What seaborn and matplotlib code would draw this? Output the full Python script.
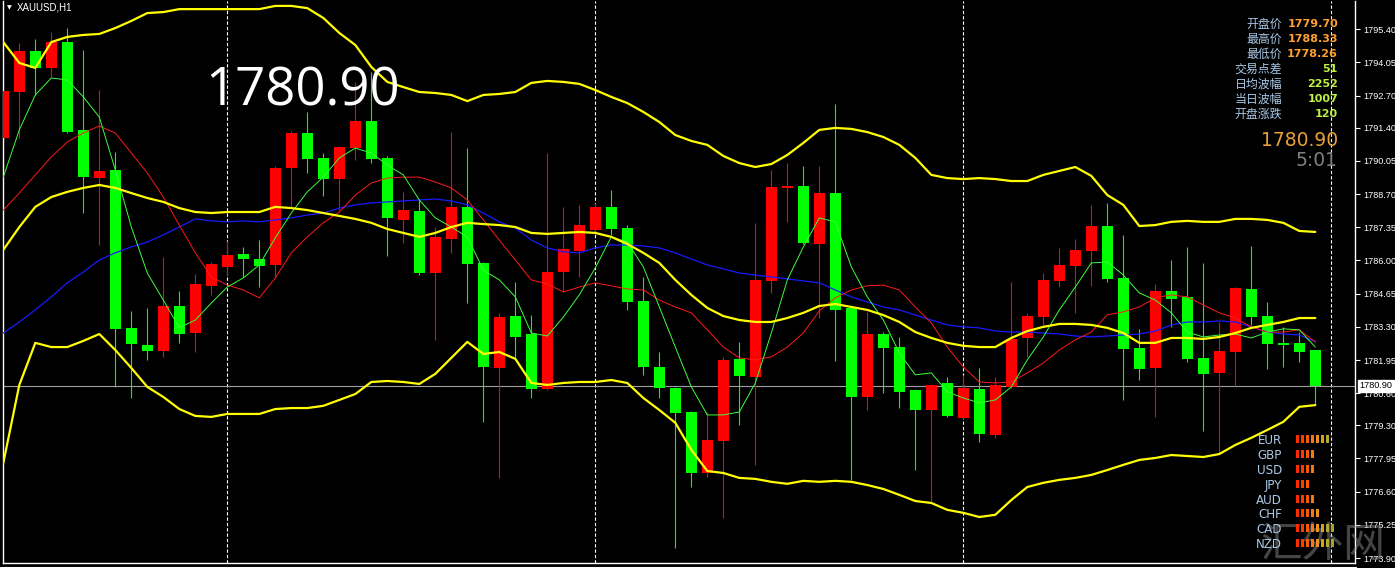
import numpy as np
import pandas as pd
import matplotlib
matplotlib.use("Agg")
import matplotlib.pyplot as plt
import seaborn as sns
from matplotlib.lines import Line2D

# ---------------- data (XAUUSD H1) ----------------
opens = [
    1790.98, 1792.85, 1794.52, 1793.83, 1794.88, 1791.31, 1789.35, 1789.68, 1783.26, 1782.57,
    1782.32, 1784.15, 1783.05, 1784.97, 1785.74, 1786.26, 1786.06, 1785.82, 1789.76, 1791.18,
    1790.17, 1789.31, 1790.57, 1791.67, 1790.17, 1787.65, 1788.01, 1785.49, 1786.87, 1788.18,
    1785.90, 1781.63, 1783.74, 1783.01, 1780.78, 1785.53, 1786.39, 1787.24, 1788.18, 1787.32,
    1784.35, 1781.67, 1780.82, 1779.84, 1777.36, 1778.66, 1782.00, 1781.27, 1785.17, 1788.95,
    1789.03, 1786.67, 1788.74, 1784.07, 1780.45, 1783.01, 1782.48, 1780.74, 1779.92, 1781.02,
    1779.60, 1780.78, 1778.91, 1780.86, 1782.85, 1783.70, 1785.17, 1785.78, 1786.39, 1787.40,
    1785.29, 1782.44, 1781.63, 1784.76, 1784.52, 1782.04, 1781.43, 1782.28, 1784.84, 1783.74,
    1782.65, 1782.65, 1782.36]
highs = [
    1794.96, 1794.84, 1795.00, 1795.29, 1795.45, 1794.56, 1792.93, 1790.41, 1783.95, 1784.07,
    1786.14, 1784.76, 1785.45, 1785.94, 1786.79, 1786.55, 1786.83, 1789.84, 1791.26, 1792.04,
    1790.37, 1790.66, 1793.26, 1793.66, 1790.25, 1788.79, 1788.46, 1787.36, 1791.22, 1790.57,
    1785.94, 1783.87, 1785.13, 1783.78, 1790.37, 1788.18, 1788.26, 1788.34, 1788.87, 1787.44,
    1785.33, 1782.28, 1780.86, 1779.88, 1779.84, 1782.08, 1782.69, 1787.53, 1789.68, 1789.96,
    1789.84, 1789.84, 1792.36, 1784.11, 1783.91, 1783.09, 1782.89, 1780.78, 1780.98, 1781.27,
    1781.35, 1781.63, 1781.27, 1785.13, 1783.87, 1785.49, 1786.51, 1786.87, 1788.26, 1788.34,
    1787.04, 1783.22, 1785.05, 1786.02, 1786.55, 1785.90, 1783.50, 1784.92, 1786.59, 1784.31,
    1783.30, 1783.09, 1782.36]
lows = [
    1790.78, 1790.98, 1792.73, 1793.46, 1791.18, 1787.93, 1786.63, 1780.86, 1780.41, 1781.96,
    1782.08, 1782.65, 1782.28, 1784.60, 1785.41, 1785.33, 1784.92, 1785.33, 1788.18, 1789.56,
    1788.62, 1788.05, 1790.09, 1789.96, 1786.18, 1786.71, 1785.41, 1782.77, 1786.31, 1784.27,
    1779.44, 1777.16, 1782.04, 1780.41, 1780.74, 1784.72, 1785.33, 1787.16, 1787.04, 1783.99,
    1781.35, 1780.41, 1774.31, 1776.79, 1777.20, 1775.53, 1779.31, 1777.69, 1784.68, 1787.57,
    1786.67, 1783.66, 1781.92, 1777.08, 1779.92, 1780.61, 1780.00, 1777.48, 1776.18, 1779.64,
    1779.56, 1778.62, 1778.79, 1780.82, 1782.08, 1783.30, 1784.92, 1783.87, 1784.97, 1785.13,
    1780.33, 1781.14, 1779.64, 1783.30, 1781.87, 1779.07, 1778.18, 1780.90, 1783.38, 1781.59,
    1781.67, 1781.87, 1780.12]
closes = [
    1792.89, 1794.52, 1793.83, 1794.88, 1791.22, 1789.39, 1789.64, 1783.22, 1782.61, 1782.32,
    1784.15, 1783.01, 1785.05, 1785.86, 1786.22, 1786.06, 1785.78, 1789.76, 1791.18, 1790.13,
    1789.31, 1790.62, 1791.67, 1790.13, 1787.73, 1788.05, 1785.49, 1786.96, 1788.18, 1785.86,
    1781.67, 1783.70, 1782.89, 1780.78, 1785.53, 1786.47, 1787.44, 1788.18, 1787.28, 1784.31,
    1781.67, 1780.82, 1779.80, 1777.36, 1778.70, 1781.96, 1781.31, 1785.21, 1788.99, 1789.03,
    1786.71, 1788.74, 1783.99, 1780.45, 1783.01, 1782.44, 1780.66, 1779.92, 1780.94, 1779.68,
    1780.82, 1778.95, 1780.94, 1782.81, 1783.74, 1785.21, 1785.82, 1786.43, 1787.40, 1785.25,
    1782.40, 1781.59, 1784.76, 1784.44, 1782.00, 1781.39, 1782.32, 1784.88, 1783.70, 1782.61,
    1782.57, 1782.28, 1780.90]

# Bollinger bands
bb_upper = [
    1794.88, 1794.03, 1793.83, 1794.88, 1795.09, 1795.17, 1795.21, 1795.45, 1795.74, 1796.06,
    1796.10, 1796.22, 1796.22, 1796.22, 1796.22, 1796.22, 1796.22, 1796.35, 1796.35, 1796.26,
    1795.86, 1795.25, 1794.76, 1793.87, 1793.26, 1793.05, 1792.85, 1792.81, 1792.73, 1792.48,
    1792.73, 1792.77, 1792.85, 1793.22, 1793.30, 1793.26, 1793.18, 1792.93, 1792.65, 1792.40,
    1792.04, 1791.63, 1791.10, 1790.86, 1790.70, 1790.25, 1789.96, 1789.80, 1789.92, 1790.29,
    1790.78, 1791.31, 1791.39, 1791.35, 1791.22, 1791.02, 1790.70, 1790.17, 1789.48, 1789.35,
    1789.31, 1789.35, 1789.31, 1789.23, 1789.23, 1789.48, 1789.64, 1789.80, 1789.44, 1788.66,
    1788.26, 1787.40, 1787.44, 1787.57, 1787.61, 1787.57, 1787.57, 1787.69, 1787.69, 1787.65,
    1787.53, 1787.20, 1787.16]
bb_middle = [
    1786.43, 1787.36, 1788.18, 1788.58, 1788.79, 1788.95, 1789.07, 1788.95, 1788.74, 1788.54,
    1788.38, 1788.13, 1787.97, 1787.93, 1787.97, 1787.97, 1787.97, 1788.18, 1788.13, 1788.05,
    1787.93, 1787.81, 1787.69, 1787.53, 1787.28, 1787.12, 1786.96, 1787.12, 1787.36, 1787.53,
    1787.48, 1787.44, 1787.36, 1787.12, 1787.08, 1787.12, 1787.16, 1787.12, 1786.96, 1786.67,
    1786.31, 1785.90, 1785.21, 1784.60, 1784.07, 1783.74, 1783.58, 1783.50, 1783.50, 1783.66,
    1783.87, 1784.15, 1784.23, 1784.11, 1783.99, 1783.78, 1783.50, 1783.09, 1782.85, 1782.65,
    1782.53, 1782.48, 1782.48, 1782.85, 1783.13, 1783.30, 1783.42, 1783.42, 1783.38, 1783.26,
    1783.05, 1782.65, 1782.65, 1782.85, 1782.85, 1782.81, 1782.89, 1783.05, 1783.26, 1783.38,
    1783.50, 1783.66, 1783.66]
bb_lower = [
    1777.77, 1780.94, 1782.65, 1782.48, 1782.48, 1782.73, 1783.01, 1782.36, 1781.63, 1780.86,
    1780.45, 1779.96, 1779.68, 1779.64, 1779.76, 1779.76, 1779.76, 1779.96, 1780.00, 1780.00,
    1780.09, 1780.33, 1780.57, 1781.06, 1781.10, 1781.06, 1780.98, 1781.39, 1782.04, 1782.69,
    1782.20, 1782.28, 1782.00, 1781.02, 1780.94, 1781.02, 1781.06, 1781.06, 1781.14, 1781.02,
    1780.41, 1779.92, 1779.40, 1778.30, 1777.44, 1777.36, 1777.16, 1777.12, 1777.00, 1776.92,
    1777.04, 1777.00, 1777.04, 1777.00, 1776.87, 1776.71, 1776.47, 1776.22, 1776.14, 1775.86,
    1775.74, 1775.57, 1775.66, 1776.26, 1776.79, 1776.96, 1777.08, 1777.16, 1777.28, 1777.48,
    1777.69, 1777.89, 1777.97, 1778.09, 1778.05, 1778.01, 1778.13, 1778.50, 1778.79, 1779.11,
    1779.44, 1780.05, 1780.12]

# moving averages
ma_fast = [
    1789.39, 1791.31, 1792.73, 1793.42, 1793.34, 1792.65, 1791.83, 1789.68, 1787.36, 1785.49,
    1784.39, 1783.26, 1783.58, 1784.27, 1784.92, 1785.29, 1785.82, 1786.92, 1787.93, 1788.79,
    1789.39, 1790.17, 1790.57, 1790.37, 1789.88, 1789.48, 1788.46, 1787.73, 1787.36, 1786.96,
    1785.61, 1785.21, 1784.52, 1783.05, 1782.93, 1783.70, 1784.60, 1785.70, 1786.96, 1786.75,
    1785.74, 1784.11, 1782.48, 1780.86, 1779.72, 1779.72, 1779.84, 1781.02, 1783.05, 1785.21,
    1786.55, 1787.73, 1787.57, 1785.74, 1784.52, 1783.58, 1782.24, 1781.35, 1781.43, 1780.66,
    1780.41, 1780.21, 1780.33, 1780.86, 1781.96, 1782.89, 1783.99, 1784.92, 1785.90, 1785.94,
    1785.41, 1784.68, 1784.39, 1783.87, 1783.09, 1782.89, 1782.97, 1783.01, 1782.85, 1783.09,
    1783.22, 1783.18, 1782.48]
ma_mid = [
    1788.05, 1788.74, 1789.48, 1790.21, 1790.82, 1791.18, 1791.47, 1791.18, 1790.37, 1789.56,
    1788.58, 1787.44, 1786.31, 1785.33, 1785.00, 1784.80, 1784.48, 1785.29, 1786.31, 1786.96,
    1787.53, 1787.97, 1788.66, 1789.15, 1789.35, 1789.39, 1789.39, 1789.19, 1788.95, 1788.46,
    1787.65, 1786.83, 1786.02, 1785.21, 1785.05, 1784.72, 1784.92, 1785.09, 1784.97, 1784.84,
    1784.80, 1784.39, 1784.11, 1783.87, 1783.18, 1782.48, 1782.04, 1781.96, 1782.08, 1782.48,
    1783.05, 1783.95, 1784.48, 1784.80, 1784.97, 1785.00, 1784.80, 1784.11, 1783.46, 1782.48,
    1781.67, 1781.06, 1781.02, 1781.06, 1781.43, 1781.83, 1782.36, 1782.77, 1783.09, 1783.79,
    1783.91, 1784.11, 1784.48, 1784.60, 1784.52, 1784.19, 1783.87, 1783.66, 1783.30, 1783.09,
    1783.09, 1783.18, 1782.69]
ma_slow = [
    1783.05, 1783.50, 1783.99, 1784.52, 1785.09, 1785.53, 1786.02, 1786.31, 1786.55, 1786.75,
    1787.04, 1787.36, 1787.69, 1787.61, 1787.57, 1787.61, 1787.57, 1787.65, 1787.73, 1787.85,
    1787.93, 1788.13, 1788.26, 1788.34, 1788.38, 1788.42, 1788.46, 1788.50, 1788.42, 1788.26,
    1787.93, 1787.57, 1787.32, 1786.83, 1786.51, 1786.35, 1786.31, 1786.51, 1786.63, 1786.63,
    1786.59, 1786.51, 1786.31, 1786.06, 1785.82, 1785.66, 1785.49, 1785.41, 1785.33, 1785.25,
    1785.17, 1785.09, 1784.80, 1784.52, 1784.31, 1784.11, 1783.99, 1783.78, 1783.58, 1783.38,
    1783.30, 1783.26, 1783.13, 1783.09, 1783.09, 1783.05, 1783.01, 1782.93, 1782.89, 1782.93,
    1782.97, 1783.01, 1783.13, 1783.38, 1783.50, 1783.50, 1783.54, 1783.50, 1783.30, 1783.09,
    1783.01, 1782.97, 1782.69]

day_separators = [14, 37, 60, 83]
y_ticks = [1773.90, 1775.25, 1776.60, 1777.95, 1779.30, 1780.60, 1781.95, 1783.30,
           1784.65, 1786.00, 1787.35, 1788.70, 1790.05, 1791.40, 1792.70, 1794.05, 1795.40]
last_price = 1780.90
symbol = "XAUUSD,H1"
countdown = "5:01"

info_labels = ["开盘价", "最高价", "最低价", "交易点差", "日均波幅", "当日波幅", "开盘涨跌"]
info_values = ["1779.70", "1788.33", "1778.26", "51", "2252", "1007", "120"]
info_colors = ["#ffa030", "#ffa030", "#ffa030", "#c0f040", "#c0f040", "#c0f040", "#c0f040"]

currencies = ["EUR", "GBP", "USD", "JPY", "AUD", "CHF", "CAD", "NZD"]
strength = [7, 4, 4, 3, 4, 5, 8, 8]
block_colors = ["#ff2a00", "#ff3c00", "#ff5800", "#f57810", "#e89020", "#d4a020", "#b4a82c", "#98a838"]

# ---------------- style ----------------
sns.set_style("dark", {"axes.facecolor": "black", "figure.facecolor": "black"})
plt.rcParams["font.family"] = ["Noto Sans CJK SC", "DejaVu Sans"]

W, H = 1395, 568
fig = plt.figure(figsize=(W / 100, H / 100), dpi=100, facecolor="black")
ax = fig.add_axes([3 / W, 5 / H, 1352 / W, 562 / H])
ax.set_facecolor("black")

df = pd.DataFrame({"open": opens, "high": highs, "low": lows, "close": closes,
                   "upper": bb_upper, "middle": bb_middle, "lower": bb_lower,
                   "fast": ma_fast, "mid": ma_mid, "slow": ma_slow})
df["idx"] = np.arange(len(df))
bull = df["close"] > df["open"]
colors = np.where(bull, "#ff0000", "#00ff00")

# day separators and bid line
for s in day_separators:
    ax.axvline(s, color="white", lw=0.8, ls=(0, (3, 1.8)), zorder=1)
ax.axhline(last_price, color="#a0a0a0", lw=0.8, zorder=1.5)

# candles
ax.vlines(df["idx"], df["low"], df["high"], colors=colors, lw=0.8, zorder=2)
body = (df["close"] - df["open"]).abs().clip(lower=0.05)
ax.bar(df["idx"], body, bottom=np.minimum(df["open"], df["close"]), width=0.66,
       color=colors, lw=0, zorder=3)

# indicator lines
for col, c, w in [("slow", "#1a1aff", 0.9), ("mid", "#ff1a1a", 0.7), ("fast", "#3cff3c", 0.7),
                  ("upper", "#ffff00", 1.6), ("middle", "#ffff00", 1.6), ("lower", "#ffff00", 1.6)]:
    sns.lineplot(x=df["idx"], y=df[col], color=c, lw=w, ax=ax, zorder=5)

ax.set_xlim(-0.02, 84.48)
ax.set_ylim(1773.70, 1796.55)
ax.set_xlabel("")
ax.set_ylabel("")
ax.set_xticks([])
ax.grid(False)
ax.yaxis.tick_right()
ax.set_yticks(y_ticks)
ax.set_yticklabels([f"{v:.2f}" for v in y_ticks])
ax.tick_params(axis="y", colors="white", labelsize=6.6, length=3.5, width=0.8, pad=2.5,
               labelfontfamily="Liberation Sans", right=True, left=False)
for side in ["left", "bottom", "right"]:
    ax.spines[side].set_visible(True)
    ax.spines[side].set_color("white")
    ax.spines[side].set_linewidth(1)
ax.spines["top"].set_visible(False)

ax.annotate(f"{last_price:.2f}", xy=(1.0, last_price), xycoords=("axes fraction", "data"),
            xytext=(3, 0), textcoords="offset points", va="center", ha="left",
            fontsize=6.6, family="Liberation Sans", color="black",
            bbox=dict(boxstyle="square,pad=0.15", fc="white", ec="white"),
            annotation_clip=False, zorder=10)

# ---------------- overlay (pixel coordinates) ----------------
ov = fig.add_axes([0, 0, 1, 1])
ov.set_xlim(0, W)
ov.set_ylim(H, 0)
ov.axis("off")
ov.patch.set_alpha(0)

ov.text(9, 8, "▼", color="white", fontsize=4.5, ha="center", va="center", family="DejaVu Sans")
ov.text(17, 8, symbol, color="white", fontsize=7, ha="left", va="center", family="Liberation Sans")
ov.text(205, 92, f"{last_price:.2f}", color="white", fontsize=38, ha="left", va="center",
        family="Open Sans")

row_y = [24, 39, 54, 69, 84, 99, 114]
for y, lab, val, c in zip(row_y, info_labels, info_values, info_colors):
    ov.text(1282, y, lab, color="#aac8e6", fontsize=8.6, ha="right", va="center",
            family=["Noto Sans CJK SC", "DejaVu Sans"])
    ov.text(1338, y, val, color=c, fontsize=8, ha="right", va="center",
            family="DejaVu Sans", fontweight="bold")
ov.text(1338, 140, f"{last_price:.2f}", color="#eaa038", fontsize=13.5, ha="right", va="center",
        family="DejaVu Sans")
ov.text(1338, 160, countdown, color="#808080", fontsize=13.5, ha="right", va="center",
        family="DejaVu Sans")

ov.text(1323, 546, "汇外网", color="#9a9a9a", alpha=0.45, fontsize=30, ha="center", va="center",
        family=["Noto Sans CJK SC"])
ov.add_line(Line2D([0, 1356], [566.5, 566.5], color="white", lw=0.8))

# ---------------- currency strength panel ----------------
sx0, sy0 = 1295.15, 431.5
sa = fig.add_axes([sx0 / W, 1 - (sy0 + 8 * 14.9) / H, 50 / W, 8 * 14.9 / H])
sa.set_facecolor("none")
sa.set_xlim(-0.5, 9.5)
sa.set_ylim(7.5, -0.5)
for r, n in enumerate(strength):
    sa.bar(np.arange(n), 0.54, bottom=r - 0.27, width=0.66, color=block_colors[:n], lw=0)
sa.set_xticks([])
sa.set_yticks(range(len(currencies)))
sa.set_yticklabels(currencies)
sa.tick_params(axis="y", length=0, pad=9.5, labelsize=8.6, labelcolor="#aac8e6",
               labelfontfamily="DejaVu Sans")
for sp in sa.spines.values():
    sp.set_visible(False)
sa.grid(False)

fig.savefig("out.png", dpi=100, facecolor="black")
